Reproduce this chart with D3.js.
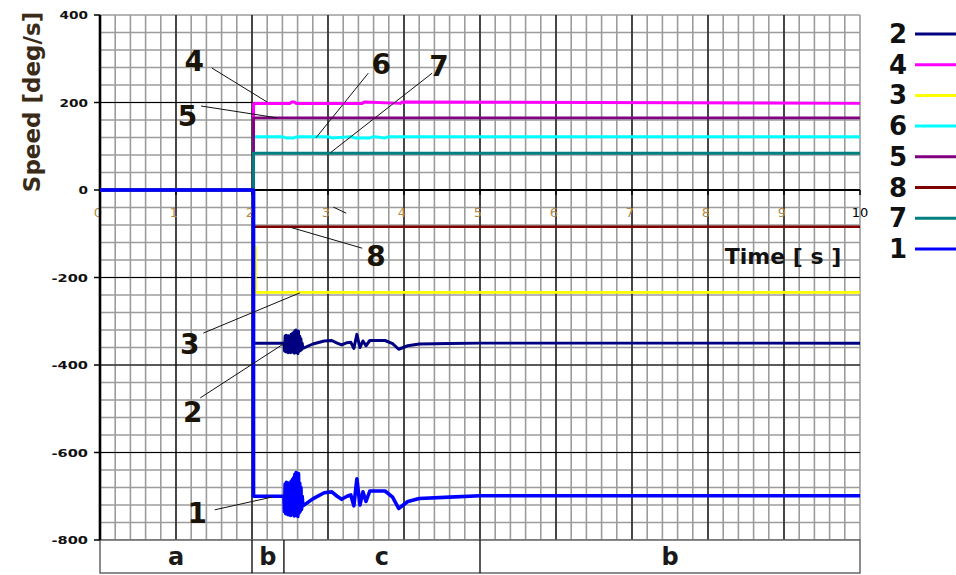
<!DOCTYPE html>
<head>
  <meta charset="utf-8">
  <script src="https://d3js.org/d3.v7.min.js"></script>
  <style>
    body { margin: 0; background: #fff; }
    svg { display: block; font-family: "DejaVu Sans", sans-serif; }
    .minor { stroke: #9c9c9c; stroke-width: 1.6px; }
    .major { stroke: #000; stroke-width: 1.2px; }
    .leader { stroke: #111; stroke-width: 1px; }
  </style>
</head>
<body>
<script>
// ---- data ----
var seriesIds = ["1", "2", "3", "4", "5", "6", "7", "8"];
var seriesColors = ["#0000ff", "#000080", "#ffff00", "#ff00ff", "#800080", "#00ffff", "#008080", "#800000"];
var legendOrder = ["2", "4", "3", "6", "5", "8", "7", "1"];
var drawOrder = ["4", "6", "5", "7", "8", "3", "2", "1"];

// time [s] and speed [deg/s]
var s1t = [0, 2.02, 2.02, 2.42, 2.428, 2.436, 2.444, 2.452, 2.46, 2.468, 2.476, 2.484, 2.492, 2.50, 2.508, 2.516, 2.524, 2.532,
  2.54, 2.548, 2.556, 2.564, 2.572, 2.58, 2.588, 2.596, 2.604, 2.612, 2.62, 2.628, 2.636, 2.644, 2.652, 2.66,
  2.67, 2.80, 2.95, 3.05, 3.12, 3.18, 3.25, 3.30, 3.34, 3.38, 3.42, 3.46, 3.50, 3.55, 3.75, 3.85, 3.93, 4.05, 4.20, 4.60, 5.0, 10];
var s1v = [0, 0, -700, -700, -735, -672, -740, -668, -738, -676, -742, -670, -740, -674, -744, -666, -738, -662,
  -742, -658, -745, -650, -744, -646, -742, -650, -746, -648, -738, -670, -734, -680, -730, -700,
  -722, -706, -692, -690, -700, -707, -700, -697, -722, -660, -720, -690, -712, -688, -688, -702, -728, -712, -705, -702, -699, -699];
var s2t = s1t;
var s2v = [0, 0, -350, -350, -368, -334, -370, -332, -369, -336, -372, -333, -370, -335, -372, -330, -368, -328,
  -371, -326, -373, -322, -372, -320, -371, -324, -374, -323, -369, -334, -367, -340, -365, -350,
  -362, -352, -345, -344, -350, -354, -349, -348, -362, -330, -360, -345, -356, -344, -344, -351, -364, -356, -352, -351, -350, -350];
var s3t = [0, 2.02, 2.02, 2.045, 2.045, 10];
var s3v = [0, 0, -130, -130, -234, -234];
var s4t = [0, 2.02, 2.02, 2.5, 2.52, 2.56, 2.58, 3.45, 3.48, 3.95, 3.98, 10];
var s4v = [0, 0, 198, 198, 201, 201, 198, 198, 201, 198, 201, 198];
var s5t = [0, 2.02, 2.02, 10];
var s5v = [0, 0, 165, 165];
var s6t = [0, 2.02, 2.02, 2.4, 2.45, 2.55, 2.6, 3.0, 3.05, 3.3, 3.35, 3.55, 3.6, 3.75, 3.8, 10];
var s6v = [0, 0, 122, 122, 119, 119, 122, 122, 119, 122, 119, 119, 122, 119, 122, 122];
var s7t = [0, 2.02, 2.02, 10];
var s7v = [0, 0, 84, 84];
var s8t = [0, 2.02, 2.02, 10];
var s8v = [0, 0, -84, -84];

var seriesT = [s1t, s2t, s3t, s4t, s5t, s6t, s7t, s8t];
var seriesV = [s1v, s2v, s3v, s4v, s5v, s6v, s7v, s8v];
var seriesWidth = [3.6, 3, 2.8, 3, 2.8, 3, 2.8, 2.6];

var xTicks = [0, 1, 2, 3, 4, 5, 6, 7, 8, 9, 10];
var yTicks = [400, 200, 0, -200, -400, -600, -800];

// phase band under the plot
var bandLabels = ["a", "b", "c", "b"];
var bandStart = [0, 2, 2.42, 5];
var bandEnd = [2, 2.42, 5, 10];

// call-out numbers: label position and leader line, in data units
var noteLabels = ["4", "5", "6", "7", "8", "3", "2", "1"];
var noteT = [1.24, 1.15, 3.70, 4.46, 3.63, 1.18, 1.22, 1.28];
var noteV = [295, 169, 288, 283, -151, -352, -507, -738];
var leadT1 = [1.47, 1.33, 3.53, 4.37, 3.45, 1.36, 1.32, 1.51];
var leadV1 = [279, 192, 267, 267, -133, -327, -475, -731];
var leadT2 = [2.20, 2.33, 2.84, 3.03, 2.50, 2.63, 2.43, 2.26];
var leadV2 = [201, 165, 119, 85, -85, -235, -350, -702];

// ---- chart ----
var width = 956, height = 575;
var svg = d3.select("body").append("svg").attr("width", width).attr("height", height);

var x = d3.scaleLinear().domain([0, 10]).range([100, 860]);
var y = d3.scaleLinear().domain([-800, 400]).range([540, 15]);
var bandTop = 540, bandBottom = 573;

// minor grid
var g = svg.append("g");
g.selectAll(".vmin").data(d3.range(0, 10.01, 0.2)).enter().append("line")
  .attr("class", "minor")
  .attr("x1", d => x(d)).attr("x2", d => x(d)).attr("y1", y(400)).attr("y2", y(-800));
g.selectAll(".hmin").data(d3.range(-800, 400.1, 40)).enter().append("line")
  .attr("class", "minor")
  .attr("x1", x(0)).attr("x2", x(10)).attr("y1", d => y(d)).attr("y2", d => y(d));
// major grid
g.selectAll(".vmaj").data(d3.range(1, 10)).enter().append("line")
  .attr("class", "major")
  .attr("x1", d => x(d)).attr("x2", d => x(d)).attr("y1", y(400)).attr("y2", y(-800));
g.selectAll(".hmaj").data([200, -200, -400, -600]).enter().append("line")
  .attr("class", "major")
  .attr("x1", x(0)).attr("x2", x(10)).attr("y1", d => y(d)).attr("y2", d => y(d));

// band
var band = svg.append("g");
band.append("rect").attr("x", x(0)).attr("y", bandTop).attr("width", x(10) - x(0)).attr("height", bandBottom - bandTop)
  .attr("fill", "#fff").attr("stroke", "#666").attr("stroke-width", 1.5);
band.selectAll(".div").data(bandStart.slice(1)).enter().append("line")
  .attr("x1", d => x(d)).attr("x2", d => x(d)).attr("y1", bandTop).attr("y2", bandBottom)
  .attr("stroke", "#000").attr("stroke-width", 1.3);
band.selectAll("text").data(bandLabels).enter().append("text")
  .attr("x", (d, i) => (x(bandStart[i]) + x(bandEnd[i])) / 2)
  .attr("y", 565)
  .attr("text-anchor", "middle")
  .style("font-size", "24px").style("font-weight", "bold").style("fill", "#1a1a1a")
  .text(d => d);

// x axis (at zero)
var xAxis = svg.append("g");
xAxis.append("line").attr("x1", x(0)).attr("x2", x(10)).attr("y1", y(0)).attr("y2", y(0))
  .attr("stroke", "#000").attr("stroke-width", 2.2);
xAxis.selectAll(".tk").data(xTicks).enter().append("line")
  .attr("x1", d => x(d)).attr("x2", d => x(d)).attr("y1", y(0)).attr("y2", y(0) + 5)
  .attr("stroke", "#000").attr("stroke-width", 1.5);
xAxis.selectAll("text").data(xTicks).enter().append("text")
  .attr("x", d => x(d) - (d === 10 ? 0 : 2)).attr("y", y(0) + 27)
  .attr("text-anchor", "middle")
  .style("font-size", "13px")
  .style("fill", d => d === 10 ? "#000" : "#b58a4c")
  .text(d => d);

// y axis
var yAxis = svg.append("g");
yAxis.append("line").attr("x1", x(0)).attr("x2", x(0)).attr("y1", y(400)).attr("y2", y(-800))
  .attr("stroke", "#000").attr("stroke-width", 2.6);
yAxis.selectAll(".tk").data(yTicks).enter().append("line")
  .attr("x1", x(0) - 6).attr("x2", x(0)).attr("y1", d => y(d)).attr("y2", d => y(d))
  .attr("stroke", "#000").attr("stroke-width", 1.5);
yAxis.selectAll("text").data(yTicks).enter().append("text")
  .attr("x", x(0) - 12).attr("y", d => y(d) + 4)
  .attr("text-anchor", "end")
  .attr("textLength", d => String(d).replace("-", "").length * 9.5 + (d < 0 ? 8 : 0))
  .attr("lengthAdjust", "spacingAndGlyphs")
  .style("font-size", "11px").style("font-weight", "bold").style("fill", "#111")
  .text(d => d);

// axis titles
svg.append("text")
  .attr("transform", "translate(40," + 102 + ") rotate(-90)")
  .attr("text-anchor", "middle")
  .style("font-size", "23px").style("font-weight", "bold").style("fill", "#3a2a18")
  .text("Speed [deg/s]");
svg.append("text")
  .attr("x", 783).attr("y", 264)
  .attr("text-anchor", "middle")
  .style("font-size", "22px").style("font-weight", "bold").style("fill", "#111")
  .text("Time [ s ]");

// series
var line = d3.line().x(d => x(d[0])).y(d => y(d[1]));
var lines = svg.append("g");
drawOrder.forEach(function(id) {
  var i = seriesIds.indexOf(id);
  var pts = seriesT[i].map((t, k) => [t, seriesV[i][k]]);
  lines.append("path")
    .datum(pts)
    .attr("d", line)
    .attr("fill", "none")
    .attr("stroke", seriesColors[i])
    .attr("stroke-width", seriesWidth[i])
    .attr("stroke-linejoin", "round");
});

// call-outs
var notes = svg.append("g");
notes.selectAll("line").data(noteLabels).enter().append("line")
  .attr("class", "leader")
  .attr("x1", (d, i) => x(leadT1[i])).attr("y1", (d, i) => y(leadV1[i]))
  .attr("x2", (d, i) => x(leadT2[i])).attr("y2", (d, i) => y(leadV2[i]));
notes.append("line").attr("class", "leader")
  .attr("x1", x(3.07)).attr("y1", y(-39)).attr("x2", x(3.24)).attr("y2", y(-53));
notes.selectAll("text").data(noteLabels).enter().append("text")
  .attr("x", (d, i) => x(noteT[i])).attr("y", (d, i) => y(noteV[i]) + 10)
  .attr("text-anchor", "middle")
  .style("font-size", "28px").style("font-weight", "bold").style("fill", "#1a1408")
  .text(d => d);

// legend
var legend = svg.append("g");
legendOrder.forEach(function(id, k) {
  var i = seriesIds.indexOf(id);
  var ly = 34 + k * 30.7;
  legend.append("text")
    .attr("x", 907).attr("y", ly + 9)
    .attr("text-anchor", "end")
    .style("font-size", "26px").style("font-weight", "bold").style("fill", "#111")
    .text(id);
  legend.append("line")
    .attr("x1", 915).attr("x2", 956).attr("y1", ly).attr("y2", ly)
    .attr("stroke", seriesColors[i]).attr("stroke-width", 3);
});
</script>
</body>
